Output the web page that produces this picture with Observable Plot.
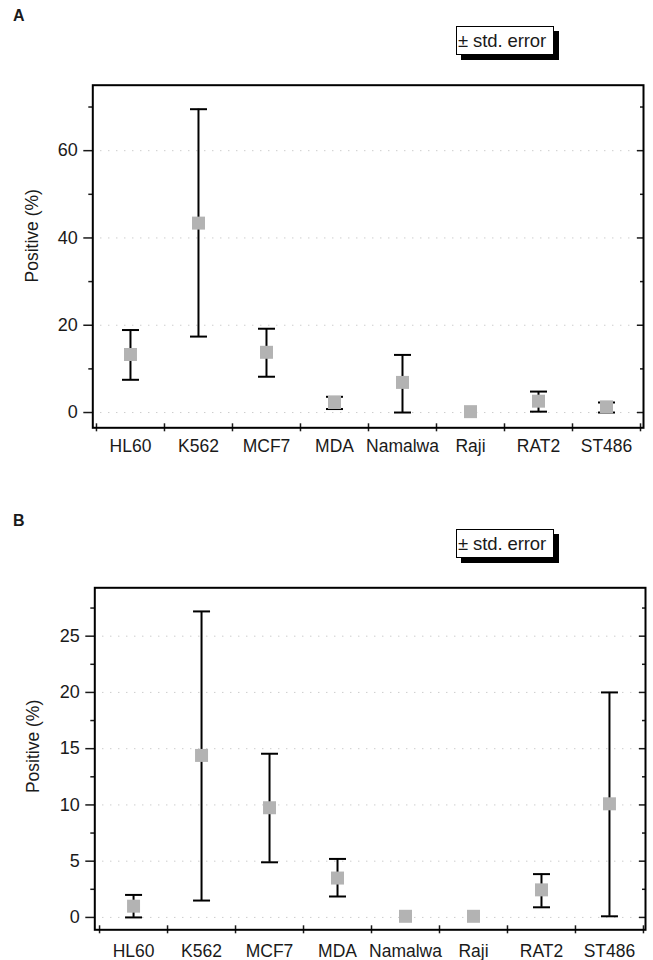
<!DOCTYPE html>
<html><head><meta charset="utf-8">
<script src="https://cdn.jsdelivr.net/npm/d3@7"></script>
<script src="https://cdn.jsdelivr.net/npm/@observablehq/plot@0.6"></script>
<style>
body{margin:0;background:#fff;}
#wrap{position:relative;width:653px;height:960px;font-family:"Liberation Sans",Arial,Helvetica,sans-serif;color:#1a1a1a;overflow:hidden;}
.panel{position:absolute;left:0;}
.letter{position:absolute;left:13px;font-weight:bold;font-size:16px;line-height:16px;}
.legend{position:absolute;left:456px;width:95px;height:27px;border:1.6px solid #000;background:#fff;box-shadow:5px 5px 0 #000;font-size:18.5px;line-height:27px;padding-left:1px;white-space:nowrap;letter-spacing:-0.1px;}
</style></head>
<body>
<div id="wrap">
  <div class="letter" style="top:8px">A</div>
  <div class="legend" style="top:26px">± std. error</div>
  <div class="panel" id="pa" style="top:0px"></div>
  <div class="letter" style="top:513px">B</div>
  <div class="legend" style="top:529px">± std. error</div>
  <div class="panel" id="pb" style="top:500px"></div>
</div>
<script>
const categories = ["HL60","K562","MCF7","MDA","Namalwa","Raji","RAT2","ST486"];

// Panel A
const meanA  = [13.3, 43.4, 13.8, 2.3, 6.9, 0.2, 2.6, 1.3];
const upperA = [18.9, 69.5, 19.2, 3.6, 13.2, 0.2, 4.8, 2.3];
const lowerA = [7.5, 17.4, 8.2, 0.8, 0.0, 0.2, 0.2, 0.0];
const majorA = [0, 20, 40, 60];
const minorA = [10, 30, 50, 70];

// Panel B
const meanB  = [1.0, 14.4, 9.75, 3.5, 0.1, 0.1, 2.45, 10.1];
const upperB = [2.0, 27.2, 14.55, 5.2, 0.1, 0.1, 3.85, 20.0];
const lowerB = [0.0, 1.5, 4.9, 1.86, 0.1, 0.1, 0.9, 0.1];
const majorB = [0, 5, 10, 15, 20, 25];
const minorB = [2.5, 7.5, 12.5, 17.5, 22.5, 27.5];

const yLabel = "Positive (%)";

const capSymbol = {
  draw(ctx, size) {
    const r = Math.sqrt(size / Math.PI);
    ctx.moveTo(-r, 0);
    ctx.lineTo(r, 0);
  }
};

function panel({means, upper, lower, major, minor, yDomain, xDomain, height, margins, labelPad, labelAt, labelDx}) {
  const rows = categories.map((c, i) => ({cat: c, pos: i + 0.5, mean: means[i], hi: upper[i], lo: lower[i]}));
  const bars = rows.filter(d => d.hi > d.lo);
  const boundaries = d3.range(categories.length + 1);
  const blank = () => "";
  return Plot.plot({
    width: 653,
    height,
    marginTop: margins[0], marginRight: margins[1], marginBottom: margins[2], marginLeft: margins[3],
    style: {fontFamily: '"Liberation Sans", Arial, Helvetica, sans-serif', fontSize: "17px", color: "#1a1a1a", background: "transparent"},
    x: {type: "linear", domain: xDomain},
    y: {domain: yDomain},
    marks: [
      Plot.ruleY(major, {stroke: "#888", strokeDasharray: "1,7", strokeOpacity: 0.6}),
      Plot.axisY(major, {anchor: "left", tickSize: 9, tickPadding: 6, fontSize: 18, label: null, strokeWidth: 1.5}),
      Plot.axisY(minor, {anchor: "left", tickSize: 4, tickFormat: blank, label: null, strokeWidth: 1.5}),
      Plot.axisY(major, {anchor: "right", tickSize: -7, tickFormat: blank, label: null, strokeWidth: 1.5}),
      Plot.axisY(minor, {anchor: "right", tickSize: -4, tickFormat: blank, label: null, strokeWidth: 1.5}),
      Plot.axisX(boundaries, {anchor: "bottom", tickSize: 8, dy: -4, tickFormat: blank, label: null, strokeWidth: 1.5}),
      Plot.axisX(rows.map(d => d.pos), {anchor: "bottom", tickSize: 0, tickPadding: labelPad, fontSize: 17.5, label: null, tickFormat: d => categories[Math.floor(d)]}),
      Plot.frame({stroke: "#000", strokeWidth: 2}),
      Plot.ruleX(bars, {x: "pos", y1: "lo", y2: "hi", stroke: "#000", strokeWidth: 2}),
      Plot.dot(bars, {x: "pos", y: "hi", symbol: capSymbol, r: 8.5, stroke: "#000", strokeWidth: 2, fill: "none"}),
      Plot.dot(bars, {x: "pos", y: "lo", symbol: capSymbol, r: 8.5, stroke: "#000", strokeWidth: 2, fill: "none"}),
      Plot.dot(rows, {x: "pos", y: "mean", symbol: "square", r: 7.33, fill: "#b3b3b3", stroke: "none"}),
      Plot.text([yLabel], {frameAnchor: "left", y: () => labelAt, dx: labelDx, rotate: -90, textAnchor: "middle", fontSize: 17.5, fill: "#1a1a1a"})
    ]
  });
}

document.getElementById("pa").appendChild(panel({
  means: meanA, upper: upperA, lower: lowerA, major: majorA, minor: minorA,
  yDomain: [-3.5, 75], xDomain: [-0.054, 8.044], height: 500,
  margins: [84.7, 10, 72.7, 92.3], labelPad: 12, labelAt: 40.5, labelDx: -60
}));
document.getElementById("pb").appendChild(panel({
  means: meanB, upper: upperB, lower: lowerB, major: majorB, minor: minorB,
  yDomain: [-1.1, 29.3], xDomain: [-0.07, 8.03], height: 460,
  margins: [87.3, 8, 30.7, 94.3], labelPad: 14.5, labelAt: 15.2, labelDx: -61
}));
</script>
</body></html>
